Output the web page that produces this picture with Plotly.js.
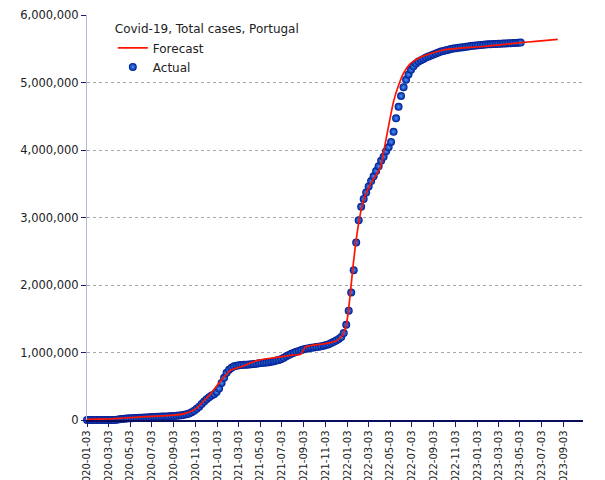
<!DOCTYPE html>
<html>
<head>
<meta charset="utf-8">
<script src="https://cdn.plot.ly/plotly-3.0.1.min.js"></script>
<style>html,body{margin:0;padding:0;background:#fff;}#chart{width:605px;height:480px;}</style>
</head>
<body>
<div id="chart"></div>
<script>
// Weekly actual total cases, starting 2020-01-03
const actualStart = '2020-01-03';
const actualValues = [
  0,0,0,0,0,0,0,0,0,13,
  112,1020,4268,9886,15472,19022,22797,25351,27268,28810,
  30200,31946,34000,35910,38464,40415,43156,45679,47765,49379,
  50868,52351,53548,55211,57448,59943,63310,67176,71156,77284,
  83928,95902,116109,137272,166900,198011,236015,274000,307618,336000,
  362000,383000,413678,466709,549801,624469,698565,746000,775000,795000,
  804000,810000,814000,817000,820000,823000,827000,831000,835000,839000,
  843000,847000,852000,857000,864000,871000,880000,890000,905000,923000,
  943000,962000,980000,996000,1010000,1024000,1038000,1049000,1057000,1064000,
  1070000,1075000,1080000,1086000,1093000,1101000,1111000,1124000,1140000,1158000,
  1178000,1200000,1230000,1290000,1410000,1620000,1890000,2220000,2630000,2960000,
  3160000,3275000,3370000,3460000,3540000,3610000,3690000,3760000,3840000,3900000,
  3980000,4040000,4120000,4270000,4470000,4640000,4800000,4930000,5040000,5120000,
  5190000,5240000,5280000,5310000,5330000,5350000,5370000,5385000,5400000,5415000,
  5430000,5445000,5458000,5468000,5478000,5487000,5495000,5502000,5508000,5514000,
  5519000,5524000,5529000,5534000,5539000,5544000,5549000,5553000,5556000,5559000,
  5562000,5565000,5567000,5569000,5571000,5573000,5575000,5577000,5579000,5581000,
  5583000,5585000,5587000,5589000,5591000
];

// Forecast curve
const forecastDates = [
  '2020-01-03','2020-02-03','2020-03-03','2020-04-03','2020-05-03','2020-06-03',
  '2020-07-03','2020-08-03','2020-09-03','2020-10-03','2020-11-03','2020-12-03',
  '2020-12-18','2021-01-19','2021-02-10','2021-03-17','2021-04-24','2021-06-15',
  '2021-08-01','2021-08-25','2021-09-08','2021-10-01','2021-11-01','2021-12-01',
  '2021-12-20','2022-01-01','2022-01-10','2022-01-19','2022-01-28','2022-02-07',
  '2022-02-18','2022-03-01','2022-03-15','2022-04-05','2022-04-24','2022-05-13',
  '2022-05-27','2022-06-10','2022-06-29','2022-07-22','2022-08-15','2022-09-21',
  '2022-10-10','2022-11-15','2023-01-11','2023-03-01','2023-05-05','2023-06-15',
  '2023-08-17'
];
const forecastValues = [
  10000,12000,15000,25000,35000,45000,
  55000,62000,72000,95000,165000,320000,
  410000,620000,740000,800000,880000,925000,
  960000,975000,1085000,1110000,1130000,1165000,
  1250000,1430000,1800000,2270000,2670000,3010000,
  3260000,3410000,3550000,3730000,4220000,4720000,
  4960000,5140000,5280000,5360000,5410000,5470000,
  5490000,5510000,5530000,5555000,5590000,5610000,
  5640000
];

const tickLabels = [
  '2020-01-03','2020-03-03','2020-05-03','2020-07-03','2020-09-03','2020-11-03',
  '2021-01-03','2021-03-03','2021-05-03','2021-07-03','2021-09-03','2021-11-03',
  '2022-01-03','2022-03-03','2022-05-03','2022-07-03','2022-09-03','2022-11-03',
  '2023-01-03','2023-03-03','2023-05-03','2023-07-03','2023-09-03'
];

const legendTitle = 'Covid-19, Total cases, Portugal';
const FONT = 'DejaVu Sans, Verdana, sans-serif';

const traces = [
  {
    type: 'scatter', mode: 'markers', name: 'Actual',
    x0: actualStart, dx: 7 * 24 * 3600 * 1000,
    y: actualValues,
    cliponaxis: false,
    legendrank: 2,
    marker: {
      size: 8, color: '#00168f',
      gradient: {type: 'radial', color: '#3f9cff'},
      line: {width: 0}
    }
  },
  {
    type: 'scatter', mode: 'lines', name: 'Forecast',
    x: forecastDates, y: forecastValues,
    legendrank: 1,
    line: {color: '#ff1400', width: 1.7, shape: 'spline', smoothing: 0.6}
  }
];

const layout = {
  width: 605, height: 480,
  margin: {l: 87, r: 22, t: 15, b: 60},
  paper_bgcolor: '#fff', plot_bgcolor: '#fff',
  font: {family: FONT, color: '#222'},
  showlegend: true,
  legend: {
    x: 0.052, y: 0.993, xanchor: 'left', yanchor: 'top',
    bgcolor: 'rgba(0,0,0,0)',
    title: {text: legendTitle, font: {family: FONT, size: 12, color: '#222'}},
    font: {family: FONT, size: 12, color: '#222'},
    itemwidth: 30
  },
  xaxis: {
    type: 'date',
    range: ['2020-01-03', '2023-10-27'],
    tickmode: 'array', tickvals: tickLabels, ticktext: tickLabels,
    tickangle: -90,
    ticks: 'outside', ticklen: 5, tickwidth: 1, tickcolor: '#1b1b70',
    showline: true, linecolor: '#0b0b5e', linewidth: 1.5,
    showgrid: false, zeroline: false, automargin: false,
    tickfont: {family: FONT, size: 10, color: '#222'}
  },
  yaxis: {
    range: [0, 6000000], dtick: 1000000, tick0: 0,
    tickformat: ',d',
    ticks: 'outside', ticklen: 5, tickwidth: 1, tickcolor: '#1b1b70',
    showline: true, linecolor: '#b4bcd4', linewidth: 1,
    showgrid: true, gridcolor: '#a8a8a8', griddash: 'dot', gridwidth: 1,
    zeroline: false, automargin: false,
    tickfont: {family: FONT, size: 11.5, color: '#222'}
  }
};

Plotly.newPlot('chart', traces, layout, {displayModeBar: false, staticPlot: true});
</script>
</body>
</html>
